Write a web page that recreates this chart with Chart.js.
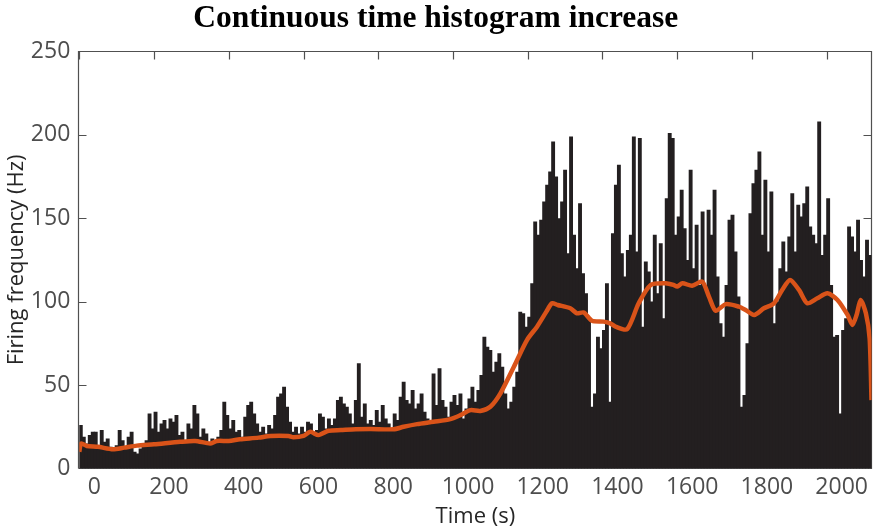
<!DOCTYPE html>
<html><head><meta charset="utf-8">
<script src="https://cdn.jsdelivr.net/npm/chart.js@4"></script>
<style>html,body{margin:0;padding:0;background:#fff}#c{display:block}</style>
</head><body>
<canvas id="c" width="875" height="530"></canvas>
<script>
// Histogram: bin width in seconds and firing frequency per bin (Hz)
const binWidth = 8;
const counts = [
  26,19,15,20,22,22,14,23,16,18,
  13,11,14,23,17,13,19,22,10,9,
  12,15,17,33,24,34,22,27,29,24,
  30,28,32,20,22,17,27,24,38,33,
  19,24,21,15,18,17,19,23,40,32,
  24,29,22,23,19,31,38,40,33,27,
  22,25,21,26,24,32,43,45,49,37,
  28,22,25,21,25,22,28,27,21,23,
  33,31,24,30,26,30,41,43,39,37,
  33,27,41,63,31,39,27,29,26,35,
  28,38,30,27,24,33,29,43,52,41,
  39,47,36,39,45,34,30,28,57,38,
  60,41,37,31,40,44,38,45,30,36,
  42,49,40,47,56,79,73,71,58,64,
  69,61,45,36,40,49,58,94,93,85,
  91,111,148,140,149,160,170,178,196,175,
  150,160,179,129,199,140,120,159,117,105,
  89,37,45,79,72,83,111,40,141,170,
  182,129,115,131,140,199,130,198,85,124,
  118,100,140,105,135,90,162,201,198,140,
  151,167,144,125,179,120,146,110,154,108,
  155,140,167,115,87,79,110,149,152,130,
  103,37,44,75,153,171,179,190,140,173,
  130,166,87,100,120,136,118,139,165,130,
  158,151,159,169,145,140,135,208,128,140,
  162,110,79,80,33,83,90,145,139,130,
  149,125,115,137,128
];

// Smoothed rate (orange curve)
const lineTime = [0,5,20,50,90,120,154,200,270,310,350,368,400,430,480,511,560,573,600,618,640,667,700,740,779,841,868,904,948,993,1020,1047,1073,1100,1127,1163,1198,1225,1250,1265,1280,1314,1332,1350,1372,1403,1421,1435,1466,1497,1529,1569,1590,1600,1614,1640,1667,1685,1703,1730,1765,1783,1806,1832,1859,1881,1902,1926,1948,1975,2002,2029,2056,2069,2080,2091,2105,2115,2120];
const lineRate = [10,15,13.5,13,11.5,12.5,13.7,14.5,16,16.5,15,16.5,16.5,17.5,18.5,19.5,19.5,18.7,19.5,22,20,22.6,23,23.5,23.7,23.5,25,26.6,28,29.6,32,35,34.5,37,45,61,77,85,94,99,98,96,93,93.5,88.5,88,87,85,83.5,99,110,111,110,109,111,109.5,112,103,94.5,98.5,97,95,92,96,99,107,113,107,99,102,105,101,92,86,92,101,93,78,41];

const xTickValues = [0,200,400,600,800,1000,1200,1400,1600,1800,2000];
const yTickValues = [0,50,100,150,200,250];
const titleText = 'Continuous time histogram increase';
const xTitle = 'Time (s)';
const yTitle = 'Firing frequency (Hz)';

const axisColor = '#505050';
const tickFont = {family: 'Open Sans', size: 23};

const boxPlugin = {
  id: 'box',
  beforeDatasetsDraw(chart) {
    const {ctx, chartArea: a, scales: {x, y}} = chart;
    ctx.save();
    ctx.strokeStyle = axisColor;
    ctx.lineWidth = 1.2;
    const L = Math.round(a.left) - 0.5, R = Math.round(a.right) - 0.5;
    const T = Math.round(a.top) + 0.5, B = Math.round(a.bottom) - 0.5;
    ctx.beginPath();
    ctx.moveTo(L, B); ctx.lineTo(L, T); ctx.lineTo(R, T); ctx.lineTo(R, B); ctx.lineTo(L, B);
    const tl = 8;
    xTickValues.forEach(v => {
      const px = Math.round(x.getPixelForValue(v)) + 0.5;
      ctx.moveTo(px, T); ctx.lineTo(px, T + tl);
    });
    yTickValues.forEach(v => {
      if (v === 0 || v === 250) return;
      const py = Math.round(y.getPixelForValue(v)) + 0.5;
      ctx.moveTo(L, py); ctx.lineTo(L + tl, py);
      ctx.moveTo(R, py); ctx.lineTo(R - tl, py);
    });
    ctx.stroke();
    ctx.restore();
  }
};

new Chart(document.getElementById('c'), {
  type: 'bar',
  data: {
    datasets: [
      {
        type: 'line',
        data: lineTime.map((t, i) => ({x: t, y: lineRate[i]})),
        borderColor: '#D95319',
        borderWidth: 4.5,
        pointRadius: 0,
        tension: 0.25,
        order: 0
      },
      {
        type: 'bar',
        data: counts.map((c, i) => ({x: i * binWidth + binWidth / 2, y: c})),
        backgroundColor: '#231F20',
        borderWidth: 0,
        inflateAmount: 0,
        barPercentage: 1.3,
        categoryPercentage: 1,
        grouped: false,
        order: 1
      }
    ]
  },
  options: {
    responsive: false,
    animation: false,
    devicePixelRatio: 1,
    layout: {padding: {left: 0, right: 3.5, top: 0, bottom: 0}},
    plugins: {
      legend: {display: false},
      tooltip: {enabled: false},
      title: {
        display: true,
        text: titleText,
        color: '#000',
        font: {family: 'Liberation Serif', size: 31.5, weight: 'bold'},
        padding: {top: 0, bottom: 13.5}
      }
    },
    scales: {
      x: {
        type: 'linear',
        min: 0,
        max: 2120,
        offset: false,
        grid: {display: false, drawTicks: false},
        border: {display: false},
        afterBuildTicks(s) { s.ticks = xTickValues.map(v => ({value: v})); },
        ticks: {
          includeBounds: false,
          autoSkip: false,
          maxRotation: 0,
          padding: 5,
          labelOffset: 15,
          color: '#4d4d4d',
          font: tickFont,
          callback: v => String(v)
        },
        title: {
          display: true,
          text: xTitle,
          color: '#262626',
          font: {family: 'Open Sans', size: 22},
          padding: {top: 0, bottom: 0}
        },
        afterFit(s) { s.height = 61.5; }
      },
      y: {
        min: 0,
        max: 250,
        grid: {display: false, drawTicks: false},
        border: {display: false},
        afterBuildTicks(s) { s.ticks = yTickValues.map(v => ({value: v})); },
        ticks: {
          padding: 9,
          color: '#4d4d4d',
          font: tickFont,
          callback: v => String(v)
        },
        title: {
          display: true,
          text: yTitle,
          color: '#262626',
          font: {family: 'Open Sans', size: 22},
          padding: {top: 4, bottom: 0}
        },
        afterFit(s) { s.width = 79.3; }
      }
    }
  },
  plugins: [boxPlugin]
});
</script>
</body></html>
